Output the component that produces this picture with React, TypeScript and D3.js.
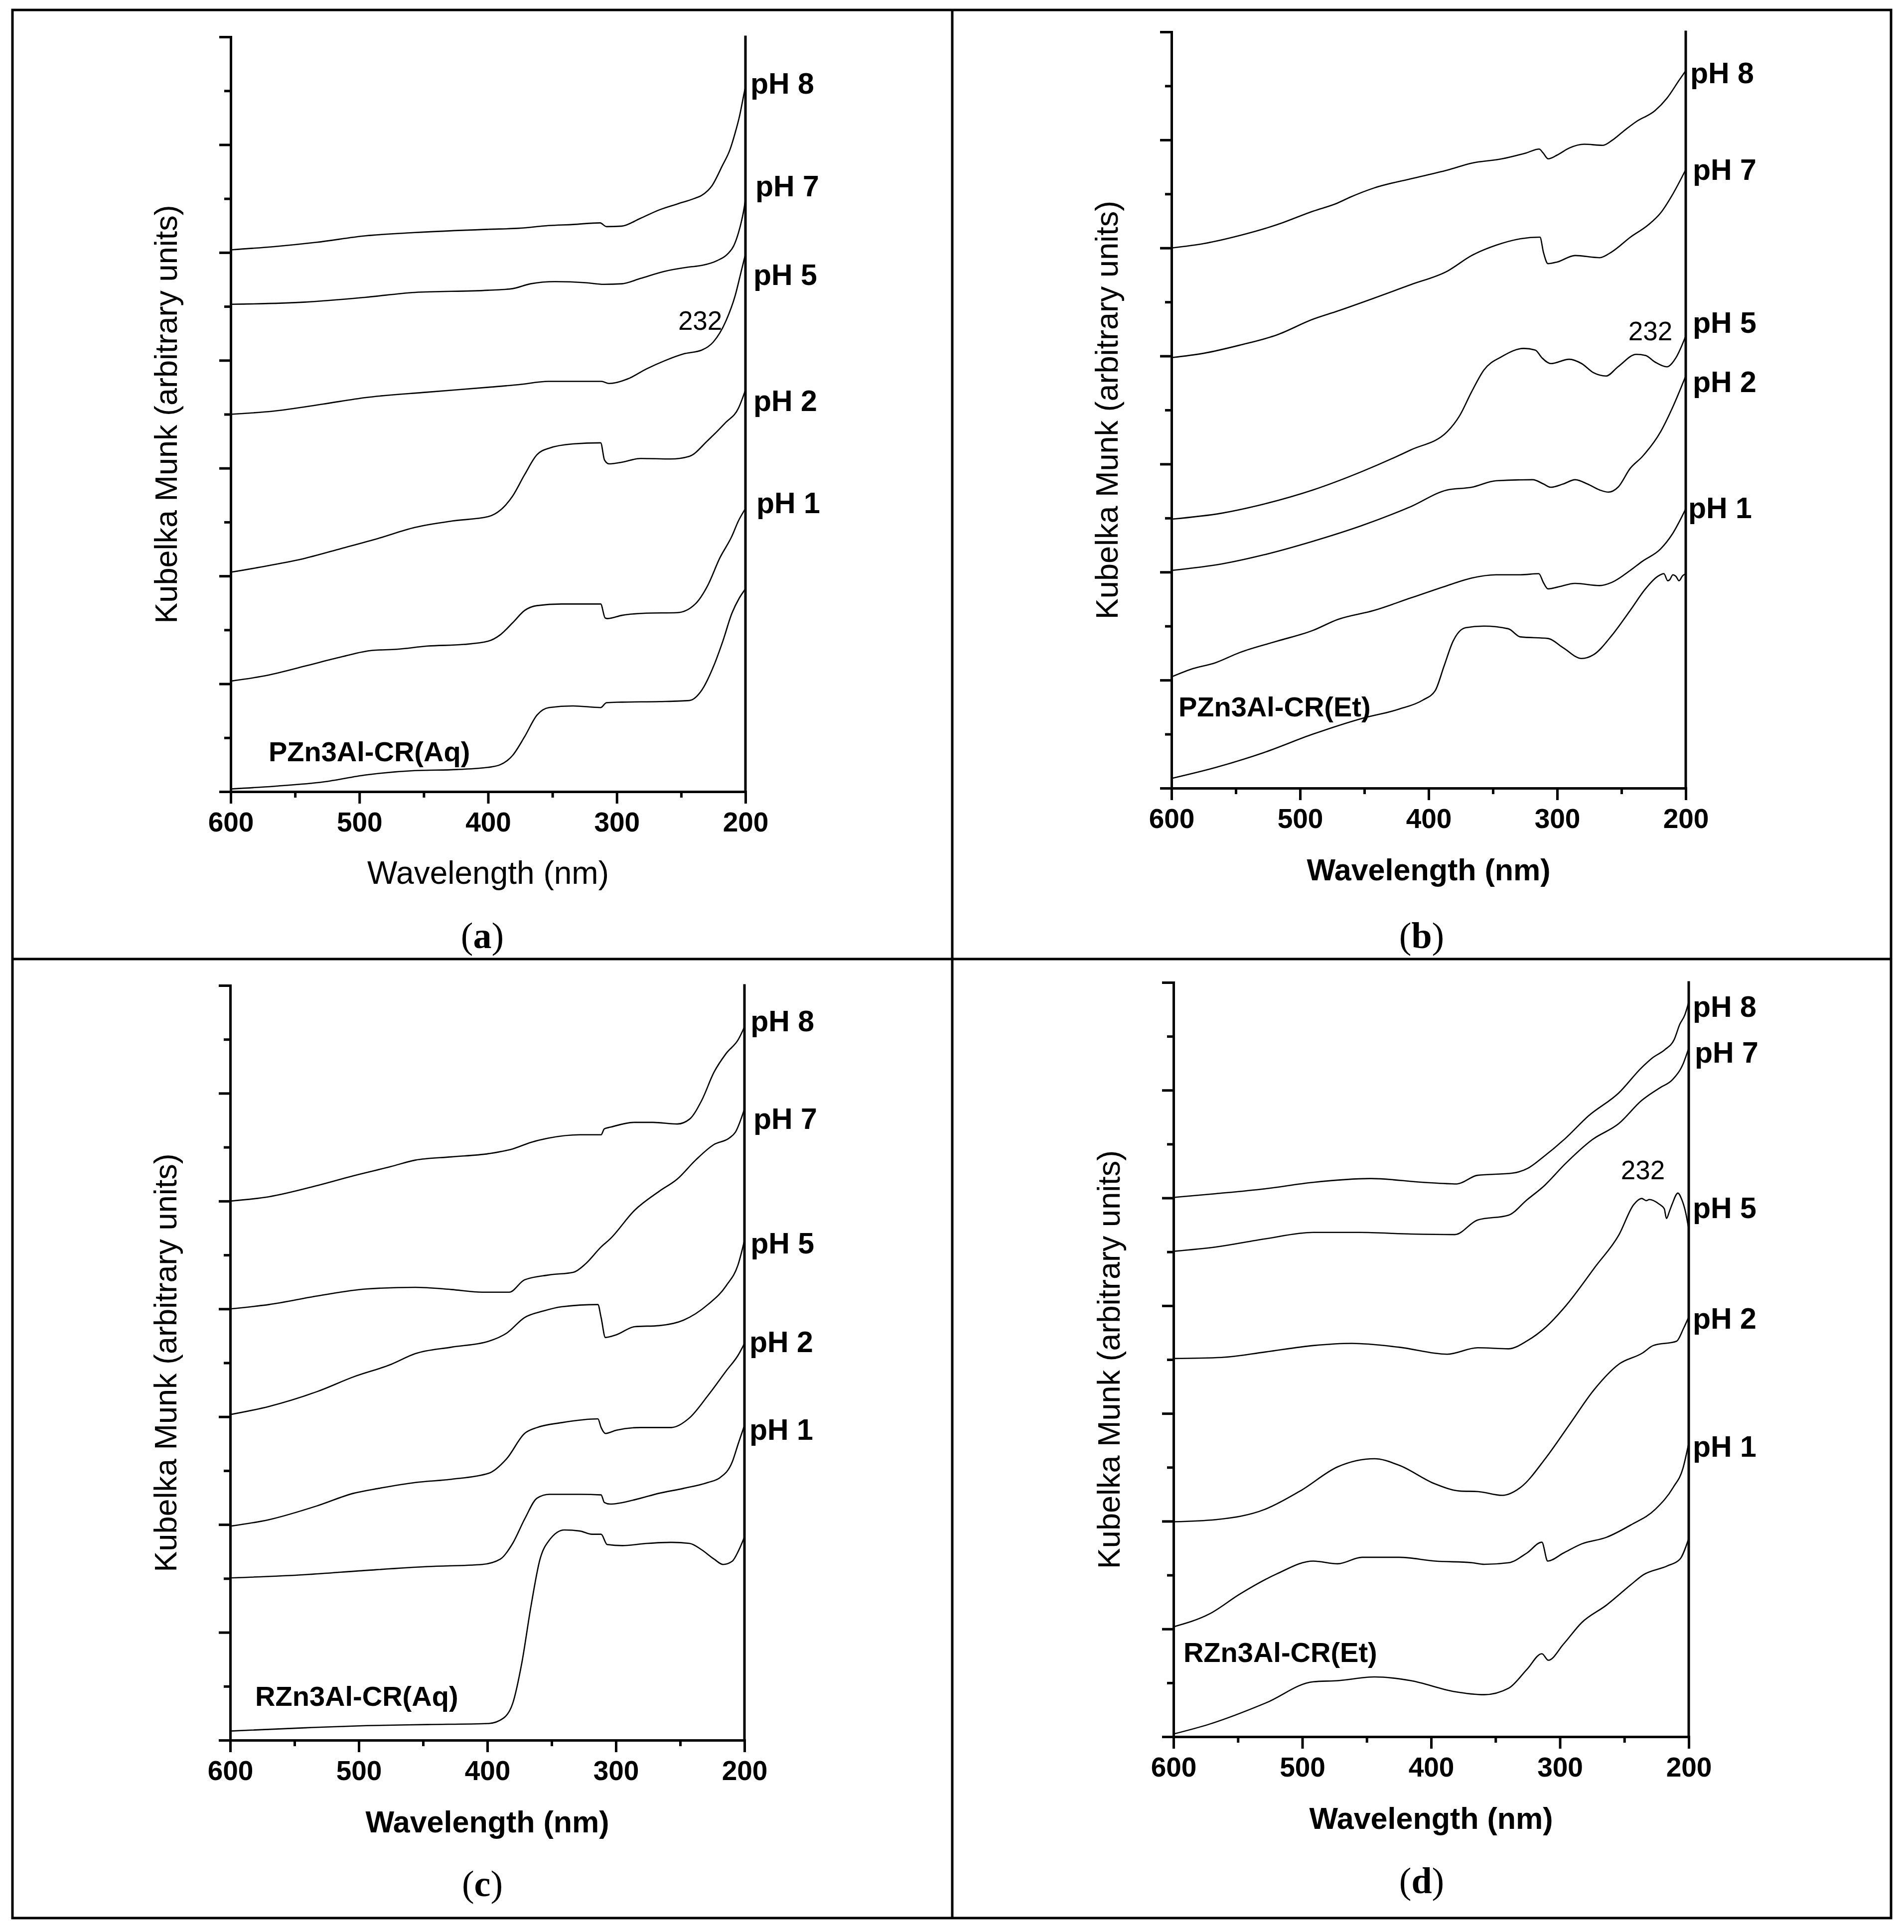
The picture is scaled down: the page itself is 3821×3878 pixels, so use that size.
import { useEffect, useRef } from 'react';
import * as d3 from 'd3';

type Pt = [number, number]; // [wavelength nm, Kubelka-Munk (arb., tick units)]

const W = 3821;
const H = 3878;
const FONT = '"Liberation Sans", Arial, sans-serif';
const SERIF = '"Liberation Serif", "Times New Roman", serif';

const WL_MAJOR = [600, 500, 400, 300, 200];
const WL_MINOR = [550, 450, 350, 250];
const KM_MAJOR = [0, 2, 4, 6, 8, 10, 12, 14];
const KM_MINOR = [1, 3, 5, 7, 9, 11, 13];
const PH_NAMES = ['pH 8', 'pH 7', 'pH 5', 'pH 2', 'pH 1'];

// ---- (a) PZn3Al-CR(Aq)
const aPH8: Pt[] = [[600, 10.05], [566, 10.11], [533, 10.19], [495, 10.31], [457, 10.37], [400, 10.43], [376, 10.45], [353, 10.5], [334, 10.52], [313, 10.55], [308, 10.48], [296, 10.49], [282, 10.63], [267, 10.79], [253, 10.9], [240, 11.0], [234, 11.06], [226, 11.24], [218, 11.61], [212, 11.91], [208, 12.22], [204.6, 12.53], [201.5, 12.9], [200, 13.08]];
const aPH7: Pt[] = [[600, 9.04], [542, 9.08], [495, 9.17], [457, 9.26], [400, 9.3], [381, 9.33], [367, 9.42], [348, 9.46], [324, 9.44], [310, 9.41], [296, 9.42], [281.5, 9.52], [263, 9.65], [244, 9.73], [234, 9.76], [222, 9.85], [214, 9.97], [209, 10.13], [205.4, 10.37], [203, 10.59], [201, 10.83], [200, 11.0]];
const aPH5: Pt[] = [[600, 7.0], [566, 7.06], [528, 7.19], [495, 7.31], [447, 7.41], [400, 7.5], [376, 7.55], [353, 7.61], [312, 7.61], [306, 7.57], [291, 7.66], [277, 7.84], [263, 7.99], [248, 8.12], [234, 8.19], [225, 8.34], [215, 8.74], [208, 9.2], [203.3, 9.65], [200, 9.97]];
const aPH2: Pt[] = [[600, 4.07], [571, 4.19], [542, 4.33], [514, 4.51], [485, 4.7], [457, 4.9], [428, 5.02], [400, 5.1], [390.5, 5.22], [381, 5.48], [371.6, 5.88], [362, 6.25], [352.6, 6.37], [334, 6.45], [312.5, 6.47], [309.5, 6.15], [306, 6.08], [296, 6.11], [281.5, 6.18], [258, 6.17], [243.6, 6.22], [229.4, 6.51], [215.2, 6.85], [205.5, 7.11], [200, 7.45]];
const aPH1: Pt[] = [[600, 2.05], [571, 2.16], [542, 2.33], [514, 2.5], [490, 2.62], [471, 2.64], [447, 2.7], [419, 2.73], [400, 2.79], [390.5, 2.91], [381, 3.13], [371.6, 3.36], [362, 3.45], [343, 3.48], [312.5, 3.48], [309, 3.22], [307, 3.21], [296, 3.27], [277, 3.31], [253, 3.32], [239, 3.48], [229.4, 3.82], [220, 4.33], [210.5, 4.74], [205.5, 5.02], [200, 5.25]];
const aBase: Pt[] = [[600, 0.05], [566, 0.1], [528, 0.18], [495, 0.31], [457, 0.39], [424, 0.41], [400, 0.45], [390.5, 0.5], [381, 0.67], [371.6, 1.02], [362, 1.42], [352.6, 1.56], [334, 1.59], [312.5, 1.56], [308, 1.65], [296, 1.66], [267, 1.67], [243.6, 1.69], [234, 1.88], [224.7, 2.33], [217.6, 2.79], [210.5, 3.31], [204.8, 3.59], [200, 3.76]];
const aLabelAt: Pt[] = [[196.1, 12.95], [192.3, 11.04], [193.8, 9.4], [193.8, 7.06], [191.5, 5.17]];

// ---- (b) PZn3Al-CR(Et)
const bPH8: Pt[] = [[600, 10.0], [575, 10.08], [547, 10.23], [518, 10.43], [490, 10.68], [471, 10.83], [461, 10.94], [442.5, 11.11], [414, 11.28], [385.5, 11.44], [366.5, 11.57], [343, 11.65], [324, 11.76], [314, 11.83], [311, 11.76], [307, 11.65], [300, 11.72], [290.6, 11.85], [279, 11.92], [264.5, 11.9], [257.4, 11.99], [248, 12.17], [238.4, 12.34], [224, 12.54], [214.7, 12.77], [205, 13.11], [200, 13.28]];
const bPH7: Pt[] = [[600, 7.97], [575, 8.05], [547, 8.2], [518, 8.39], [490, 8.68], [471, 8.83], [442.5, 9.07], [414, 9.32], [385.5, 9.57], [366.5, 9.86], [347.6, 10.05], [328.6, 10.17], [313.4, 10.2], [310.6, 9.91], [307.2, 9.71], [300, 9.74], [286, 9.86], [267, 9.82], [257.4, 9.93], [243, 10.2], [229, 10.43], [219.5, 10.65], [210, 11.0], [200, 11.45]];
const bPH5: Pt[] = [[600, 4.98], [561, 5.09], [528, 5.26], [490, 5.52], [452, 5.86], [414, 6.26], [385.5, 6.6], [376, 6.89], [366.5, 7.34], [357, 7.74], [343, 7.99], [326, 8.14], [317, 8.11], [312, 7.97], [305, 7.86], [290.6, 7.94], [281, 7.86], [271.7, 7.69], [262, 7.63], [252.7, 7.8], [238.4, 8.03], [231.3, 8.01], [224, 7.89], [214.7, 7.8], [207.6, 7.97], [200, 8.37]];
const bPH2: Pt[] = [[600, 4.03], [561, 4.15], [528, 4.32], [490, 4.57], [452, 4.86], [414, 5.21], [385.5, 5.52], [366.5, 5.57], [347.6, 5.69], [319, 5.71], [310.6, 5.63], [305, 5.57], [295.4, 5.63], [286, 5.71], [276.4, 5.63], [267, 5.52], [260, 5.48], [252.7, 5.57], [243.2, 5.92], [233.7, 6.14], [219.5, 6.6], [210, 7.06], [200, 7.63]];
const bPH1: Pt[] = [[600, 2.06], [585, 2.2], [566, 2.32], [547, 2.51], [518, 2.72], [490, 2.92], [471, 3.12], [442.5, 3.29], [414, 3.52], [385.5, 3.75], [366.5, 3.89], [347.6, 3.95], [328.6, 3.95], [314.3, 3.97], [310.6, 3.8], [307.2, 3.69], [300, 3.72], [286, 3.79], [267, 3.75], [257.4, 3.81], [243.2, 4.03], [233.7, 4.2], [219.5, 4.43], [210, 4.72], [200, 5.17]];
const bBase: Pt[] = [[600, 0.18], [566, 0.38], [528, 0.66], [490, 1.0], [452, 1.29], [423.5, 1.46], [404.5, 1.63], [395, 1.8], [388, 2.26], [381, 2.72], [371.3, 2.97], [357, 3.0], [338, 2.95], [328.6, 2.8], [307, 2.77], [295.4, 2.6], [281, 2.4], [271.7, 2.47], [257.4, 2.83], [243.2, 3.29], [231.3, 3.69], [221.8, 3.92], [217, 3.97], [214, 3.84], [212.4, 3.86], [210, 3.95], [207.6, 3.92], [205.2, 3.84], [202.5, 3.93], [200, 3.97]];
const bLabelAt: Pt[] = [[196.5, 13.05], [194.6, 11.26], [194.6, 8.43], [194.6, 7.33], [198.1, 5.0]];

// ---- (c) RZn3Al-CR(Aq)
const cPH8: Pt[] = [[600, 10.0], [570, 10.08], [532, 10.29], [504, 10.47], [475, 10.64], [456, 10.76], [428, 10.82], [399, 10.88], [380, 10.97], [366, 11.09], [352, 11.17], [328, 11.23], [311.5, 11.23], [309, 11.34], [304.4, 11.37], [285.4, 11.46], [271.2, 11.46], [252.2, 11.43], [242.7, 11.52], [233.2, 11.87], [223.7, 12.39], [214.2, 12.74], [204.7, 13.0], [200, 13.23]];
const cPH7: Pt[] = [[600, 8.0], [570, 8.08], [532, 8.24], [494, 8.37], [456, 8.4], [428, 8.36], [404, 8.31], [383, 8.31], [371, 8.54], [352, 8.63], [333, 8.68], [323.4, 8.84], [311.5, 9.15], [304.4, 9.3], [285.4, 9.83], [266.4, 10.18], [252.2, 10.41], [238, 10.76], [223.7, 11.05], [211.8, 11.17], [207, 11.28], [200, 11.71]];
const cPH5: Pt[] = [[600, 6.04], [570, 6.19], [532, 6.47], [504, 6.74], [475, 6.97], [456, 7.17], [428, 7.29], [399, 7.4], [385, 7.55], [371, 7.84], [356.6, 7.96], [342.3, 8.04], [314, 8.08], [311.5, 7.84], [308.2, 7.47], [299.6, 7.52], [285.4, 7.67], [266.4, 7.69], [247.5, 7.79], [228.5, 8.08], [214.2, 8.43], [204.7, 8.84], [200, 9.27]];
const cPH2: Pt[] = [[600, 3.97], [570, 4.09], [532, 4.35], [504, 4.58], [484.7, 4.67], [456, 4.78], [428, 4.84], [399, 4.95], [385, 5.22], [371, 5.69], [361.3, 5.8], [342.3, 5.89], [314, 5.96], [311.5, 5.8], [308.2, 5.69], [299.6, 5.75], [280.7, 5.8], [257, 5.8], [242.7, 5.98], [228.5, 6.39], [214.2, 6.85], [204.7, 7.15], [200, 7.36]];
const cPH1: Pt[] = [[600, 3.01], [541.6, 3.07], [494, 3.15], [446.7, 3.22], [404, 3.26], [389.8, 3.36], [380.3, 3.65], [370.8, 4.11], [361.3, 4.49], [351.8, 4.56], [328, 4.56], [311.5, 4.55], [309, 4.41], [304.4, 4.38], [285.4, 4.46], [266.4, 4.58], [247.5, 4.67], [228.5, 4.78], [219, 4.87], [209.5, 5.16], [204.7, 5.51], [200, 5.84]];
const cBase: Pt[] = [[600, 0.17], [541.6, 0.23], [494, 0.27], [446.7, 0.29], [399, 0.31], [387.4, 0.41], [380.3, 0.68], [373.2, 1.43], [366.1, 2.48], [359, 3.36], [351.8, 3.71], [340, 3.9], [328, 3.88], [318.6, 3.82], [311.5, 3.82], [306.8, 3.63], [294.9, 3.61], [275.9, 3.65], [257, 3.67], [242.7, 3.65], [233.2, 3.53], [223.7, 3.36], [216.6, 3.26], [209.5, 3.32], [204.7, 3.51], [200, 3.77]];
const cLabelAt: Pt[] = [[195.3, 13.15], [193.0, 11.34], [195.3, 9.03], [196.1, 7.2], [196.1, 5.57]];

// ---- (d) RZn3Al-CR(Et)
const dPH8: Pt[] = [[600, 10.01], [567, 10.08], [529, 10.17], [491.5, 10.29], [447, 10.36], [406, 10.29], [380, 10.26], [364, 10.42], [337, 10.46], [325, 10.55], [313.5, 10.75], [296, 11.1], [278, 11.52], [254.3, 11.95], [236.5, 12.42], [227.6, 12.61], [218.7, 12.75], [211.3, 12.94], [207, 13.22], [203, 13.4], [200.9, 13.56], [200, 13.64]];
const dPH7: Pt[] = [[600, 9.01], [567, 9.09], [529, 9.24], [491.5, 9.36], [455.5, 9.36], [415.6, 9.33], [381.6, 9.32], [364, 9.59], [340, 9.68], [325.3, 9.97], [312, 10.23], [296, 10.63], [275, 11.08], [254.3, 11.38], [236.5, 11.81], [222, 12.05], [212.8, 12.19], [204, 12.51], [200, 12.78]];
const dPH5: Pt[] = [[600, 7.02], [562.6, 7.04], [529, 7.14], [491.5, 7.26], [461.5, 7.3], [425, 7.23], [387.6, 7.1], [363.8, 7.22], [340, 7.2], [325.3, 7.35], [310.6, 7.61], [295.7, 7.99], [272, 8.74], [254.3, 9.31], [242.6, 9.88], [236.5, 9.99], [233, 9.95], [230.6, 9.97], [223.2, 9.89], [219, 9.8], [217.3, 9.62], [215, 9.75], [212.8, 9.89], [208.4, 10.09], [205.4, 9.97], [202.4, 9.73], [200, 9.42]];
const dPH2: Pt[] = [[600, 3.99], [567, 4.03], [529, 4.22], [501, 4.57], [472.5, 5.01], [444, 5.16], [425, 5.04], [396.7, 4.69], [377.7, 4.56], [363.5, 4.55], [344.6, 4.48], [330.4, 4.63], [311.4, 5.16], [292.4, 5.8], [273.5, 6.44], [254.5, 6.91], [236, 7.12], [227.6, 7.26], [209.5, 7.34], [204, 7.58], [200, 7.79]];
const dPH1: Pt[] = [[600, 2.04], [572, 2.28], [548.3, 2.65], [520, 3.02], [491.5, 3.26], [472.5, 3.21], [453.6, 3.33], [425, 3.33], [396.7, 3.26], [368.3, 3.23], [358.8, 3.2], [339.8, 3.23], [325.6, 3.41], [314, 3.61], [309.5, 3.26], [297.2, 3.41], [283, 3.58], [264, 3.7], [245, 3.93], [226, 4.22], [212, 4.63], [204.5, 4.98], [200, 5.45]];
const dBase: Pt[] = [[600, 0.05], [572.5, 0.23], [528, 0.63], [491.5, 1.02], [472.5, 1.04], [444, 1.11], [415.6, 1.04], [382.5, 0.84], [358.8, 0.78], [339.8, 0.9], [325.6, 1.25], [314, 1.54], [309, 1.42], [297.2, 1.72], [283, 2.12], [264, 2.44], [245, 2.82], [235.6, 3.0], [216.6, 3.17], [207, 3.29], [200, 3.68]];
const dLabelAt: Pt[] = [[196.9, 13.36], [195.4, 12.51], [196.9, 9.63], [196.9, 7.57], [196.9, 5.2]];

interface Panel {
  letter: string;
  left: number;
  right: number;
  top: number;
  bottom: number;
  letterX: number;
  letterY: number;
  boldXLabel: boolean;
  curves: Pt[][];
  labelAt: Pt[];
  sample: string;
  sampleAt: Pt;
  peakAt: Pt | null;
}

const PANELS: Panel[] = [
  { letter: 'a', left: 463, right: 1496, top: 74, bottom: 1589, letterX: 968, letterY: 1903, boldXLabel: false,
    curves: [aPH8, aPH7, aPH5, aPH2, aPH1, aBase], labelAt: aLabelAt, sample: 'PZn3Al-CR(Aq)', sampleAt: [570.6, 0.56], peakAt: [235.2, 8.57] },
  { letter: 'b', left: 2351, right: 3383, top: 64, bottom: 1582, letterX: 2853, letterY: 1903, boldXLabel: true,
    curves: [bPH8, bPH7, bPH5, bPH2, bPH1, bBase], labelAt: bLabelAt, sample: 'PZn3Al-CR(Et)', sampleAt: [594.6, 1.33], peakAt: [227.5, 8.29] },
  { letter: 'c', left: 462, right: 1494, top: 1978, bottom: 3493, letterX: 968, letterY: 3806, boldXLabel: true,
    curves: [cPH8, cPH7, cPH5, cPH2, cPH1, cBase], labelAt: cLabelAt, sample: 'RZn3Al-CR(Aq)', sampleAt: [580.6, 0.64], peakAt: null },
  { letter: 'd', left: 2355, right: 3389, top: 1972, bottom: 3486, letterX: 2853, letterY: 3800, boldXLabel: true,
    curves: [dPH8, dPH7, dPH5, dPH2, dPH1, dBase], labelAt: dLabelAt, sample: 'RZn3Al-CR(Et)', sampleAt: [592.3, 1.39], peakAt: [235.6, 10.35] },
];

export default function App() {
  const svgRef = useRef<SVGSVGElement>(null);

  useEffect(() => {
    if (!svgRef.current) return;
    const svg = d3.select(svgRef.current);
    svg.selectAll('*').remove();

    svg.append('rect').attr('width', W).attr('height', H).attr('fill', '#fff');

    // outer frame and dividers
    const frame = svg.append('g').attr('stroke', '#000').attr('stroke-width', 5).attr('fill', 'none');
    frame.append('rect').attr('x', 25).attr('y', 20).attr('width', 3770).attr('height', 3830);
    frame.append('line').attr('x1', 1911).attr('x2', 1911).attr('y1', 20).attr('y2', 3850);
    frame.append('line').attr('x1', 25).attr('x2', 3795).attr('y1', 1925).attr('y2', 1925);

    PANELS.forEach(p => {
      const x = d3.scaleLinear().domain([600, 200]).range([p.left, p.right]);
      const y = d3.scaleLinear().domain([0, 14]).range([p.bottom, p.top]);
      const g = svg.append('g');

      const line = d3
        .line<Pt>()
        .x(d => x(d[0]))
        .y(d => y(d[1]))
        .curve(d3.curveMonotoneX);

      p.curves.forEach(pts => {
        g.append('path')
          .attr('d', line(pts) ?? '')
          .attr('fill', 'none')
          .attr('stroke', '#000')
          .attr('stroke-width', 2.6)
          .attr('stroke-linejoin', 'round');
      });

      // left axis: major + minor ticks, no labels
      const styleAxis = (sel: any) => {
        sel.select('.domain').attr('stroke-width', 5).attr('stroke-linecap', 'square');
        sel.selectAll('.tick line').attr('stroke-width', 5);
        sel.selectAll('.tick text').remove();
      };
      g.append('g')
        .attr('transform', `translate(${p.left},0)`)
        .call(d3.axisLeft(y).tickValues(KM_MAJOR).tickSize(23).tickSizeOuter(0))
        .call(styleAxis);
      g.append('g')
        .attr('transform', `translate(${p.left},0)`)
        .call(d3.axisLeft(y).tickValues(KM_MINOR).tickSize(13).tickSizeOuter(0))
        .call(styleAxis);

      // bottom axis
      const bx = g.append('g')
        .attr('transform', `translate(0,${p.bottom})`)
        .call(d3.axisBottom(x).tickValues(WL_MINOR).tickSize(12).tickSizeOuter(0));
      bx.select('.domain').attr('stroke-width', 5).attr('stroke-linecap', 'square');
      bx.selectAll('.tick line').attr('stroke-width', 5);
      bx.selectAll('.tick text').remove();

      const bxMajor = g.append('g')
        .attr('transform', `translate(0,${p.bottom})`)
        .call(d3.axisBottom(x).tickValues(WL_MAJOR).tickSize(24).tickSizeOuter(0).tickPadding(17).tickFormat(d3.format('d')));
      bxMajor.select('.domain').attr('stroke-width', 5).attr('stroke-linecap', 'square');
      bxMajor.selectAll('.tick line').attr('stroke-width', 5);
      bxMajor.selectAll('.tick text')
        .attr('font-family', FONT)
        .attr('font-size', 55)
        .attr('font-weight', 700)
        .attr('fill', '#000');

      // right frame line at 200 nm
      g.append('line')
        .attr('x1', x(200)).attr('x2', x(200))
        .attr('y1', y(14)).attr('y2', y(0))
        .attr('stroke', '#000').attr('stroke-width', 5).attr('stroke-linecap', 'square');

      // curve labels
      p.labelAt.forEach((pos, i) => {
        g.append('text')
          .attr('x', x(pos[0])).attr('y', y(pos[1]))
          .attr('font-family', FONT).attr('font-size', 59).attr('font-weight', 700)
          .text(PH_NAMES[i]);
      });

      g.append('text')
        .attr('x', x(p.sampleAt[0])).attr('y', y(p.sampleAt[1]))
        .attr('font-family', FONT).attr('font-size', 56).attr('font-weight', 700)
        .text(p.sample);

      if (p.peakAt) {
        g.append('text')
          .attr('x', x(p.peakAt[0])).attr('y', y(p.peakAt[1]))
          .attr('text-anchor', 'middle')
          .attr('font-family', FONT).attr('font-size', 53)
          .text('232');
      }

      // axis titles
      const cy = (p.top + p.bottom) / 2;
      g.append('text')
        .attr('transform', `translate(${p.left - 108},${cy}) rotate(-90)`)
        .attr('text-anchor', 'middle')
        .attr('font-family', FONT).attr('font-size', 63)
        .text('Kubelka Munk (arbitrary units)');

      g.append('text')
        .attr('x', (p.left + p.right) / 2).attr('y', p.bottom + 185)
        .attr('text-anchor', 'middle')
        .attr('font-family', FONT)
        .attr('font-size', p.boldXLabel ? 61 : 64)
        .attr('font-weight', p.boldXLabel ? 700 : 400)
        .text('Wavelength (nm)');

      const lt = g.append('text')
        .attr('x', p.letterX).attr('y', p.letterY)
        .attr('text-anchor', 'middle')
        .attr('font-family', SERIF).attr('font-size', 74);
      lt.append('tspan').text('(');
      lt.append('tspan').attr('font-weight', 700).text(p.letter);
      lt.append('tspan').text(')');
    });
  }, []);

  return (
    <svg
      ref={svgRef}
      width={W}
      height={H}
      viewBox={`0 0 ${W} ${H}`}
      style={{ position: 'absolute', left: 0, top: 0, display: 'block', background: '#fff' }}
    />
  );
}
